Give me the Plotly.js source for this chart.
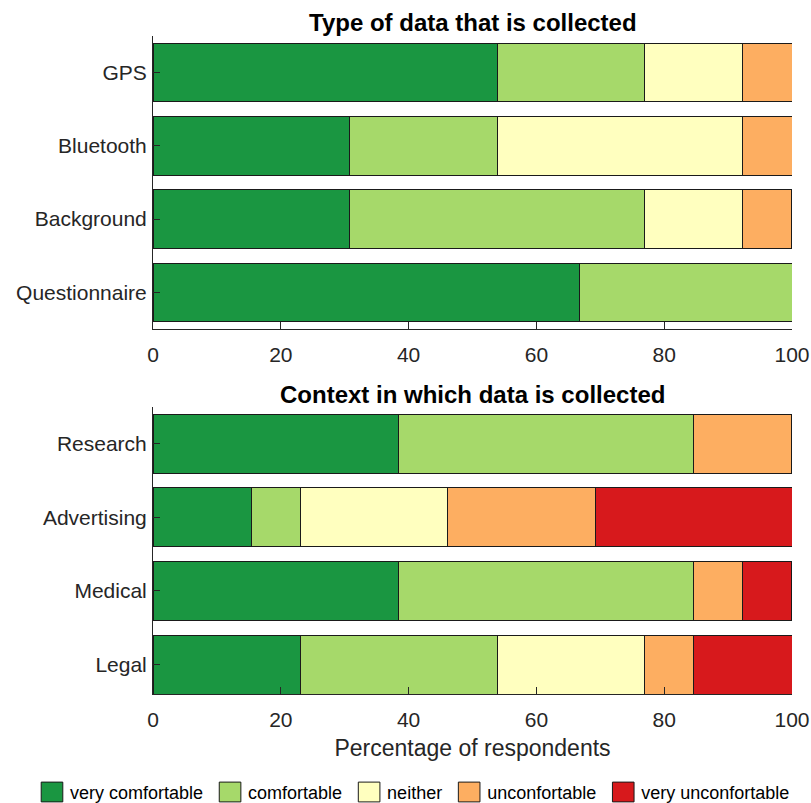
<!DOCTYPE html>
<html>
<head>
<meta charset="utf-8">
<script src="https://cdn.plot.ly/plotly-3.0.1.min.js"></script>
<style>
html,body{margin:0;padding:0;background:#fff;}
#chart{width:811px;height:803px;}
</style>
</head>
<body>
<div id="chart"></div>
<script>
// ---- data ----
const typeCategories = ["GPS", "Bluetooth", "Background", "Questionnaire"];
const contextCategories = ["Research", "Advertising", "Medical", "Legal"];
const seriesNames = ["very comfortable", "comfortable", "neither", "unconfortable", "very unconfortable"];

// Percentage of respondents - "Type of data that is collected"
const typeVeryComfortable   = [53.85, 30.77, 30.77, 66.67];
const typeComfortable       = [23.08, 23.08, 46.15, 33.33];
const typeNeither           = [15.38, 38.46, 15.38, 0];
const typeUnconfortable     = [7.69, 7.69, 7.69, 0];
const typeVeryUnconfortable = [0, 0, 0, 0];

// Percentage of respondents - "Context in which data is collected"
const ctxVeryComfortable   = [38.46, 15.38, 38.46, 23.08];
const ctxComfortable       = [46.15, 7.69, 46.15, 30.77];
const ctxNeither           = [0, 23.08, 0, 23.08];
const ctxUnconfortable     = [15.38, 23.08, 7.69, 7.69];
const ctxVeryUnconfortable = [0, 30.77, 7.69, 15.38];

const xTickValues = [0, 20, 40, 60, 80, 100];
const xTickLabels = ["0", "20", "40", "60", "80", "100"];

// ---- styling ----
const colors = ["#1a9641", "#a6d96a", "#ffffbf", "#fdae61", "#d7191c"];
const typeSeries = [typeVeryComfortable, typeComfortable, typeNeither, typeUnconfortable, typeVeryUnconfortable];
const ctxSeries = [ctxVeryComfortable, ctxComfortable, ctxNeither, ctxUnconfortable, ctxVeryUnconfortable];

const FONT = "'Liberation Sans', Arial, Helvetica, sans-serif";
const AX = "#262626";

const traces = [];
seriesNames.forEach((name, i) => {
  traces.push({
    type: "bar", orientation: "h", name: name,
    y: typeCategories, x: typeSeries[i], xaxis: "x", yaxis: "y",
    marker: {color: colors[i], line: {color: "#1a1a1a", width: 1}},
    width: 0.8, showlegend: false, hoverinfo: "x+y+name"
  });
});
seriesNames.forEach((name, i) => {
  traces.push({
    type: "bar", orientation: "h", name: name,
    y: contextCategories, x: ctxSeries[i], xaxis: "x2", yaxis: "y2",
    marker: {color: colors[i], line: {color: "#1a1a1a", width: 1}},
    width: 0.8, showlegend: true, hoverinfo: "x+y+name"
  });
});

const xBase = {
  range: [0, 100], tickvals: xTickValues, ticktext: xTickLabels,
  ticks: "inside", ticklen: 7, tickcolor: AX, tickwidth: 1,
  showline: true, linecolor: AX, linewidth: 1, mirror: false,
  showgrid: false, zeroline: false, ticklabelstandoff: 7,
  tickfont: {family: FONT, size: 21, color: AX}, fixedrange: true
};
const yBase = {
  type: "category",
  ticks: "inside", ticklen: 7, tickcolor: AX, tickwidth: 1,
  showline: true, linecolor: AX, linewidth: 1,
  showgrid: false, zeroline: false,
  tickfont: {family: FONT, size: 21, color: AX}, fixedrange: true,
  ticklabelstandoff: 1
};

const H = 803, mT = 36, mB = 109, mL = 153, plotW = 639, plotH = H - mT - mB;
const topDomainBottom = (694 - 329) / plotH;
const botDomainTop = (694 - 407) / plotH;
const LEGEND_CENTER_Y = 792;

const layout = {
  width: 811, height: 803,
  margin: {l: mL, r: 19, t: mT, b: mB, autoexpand: false},
  paper_bgcolor: "#fff", plot_bgcolor: "#fff",
  barmode: "stack", bargap: 0.2,
  font: {family: FONT, color: AX},
  xaxis: Object.assign({}, xBase, {anchor: "y", domain: [0, 1]}),
  yaxis: Object.assign({}, yBase, {anchor: "x", domain: [topDomainBottom, 1],
          categoryorder: "array", categoryarray: typeCategories, range: [3.5, -0.5]}),
  xaxis2: Object.assign({}, xBase, {anchor: "y2", domain: [0, 1],
          title: {text: "Percentage of respondents", font: {family: FONT, size: 23, color: AX}, standoff: 9}}),
  yaxis2: Object.assign({}, yBase, {anchor: "x2", domain: [0, botDomainTop],
          categoryorder: "array", categoryarray: contextCategories, range: [3.4, -0.5]}),
  annotations: [
    {text: "<b>Type of data that is collected</b>", xref: "paper", yref: "paper",
     x: 0.5, y: (694 - 22) / plotH, xanchor: "center", yanchor: "middle", showarrow: false,
     font: {family: FONT, size: 24, color: "#000"}},
    {text: "<b>Context in which data is collected</b>", xref: "paper", yref: "paper",
     x: 0.5, y: (694 - 394) / plotH, xanchor: "center", yanchor: "middle", showarrow: false,
     font: {family: FONT, size: 24, color: "#000"}}
  ],
  legend: {
    orientation: "h", xref: "paper", yref: "paper",
    x: (30 - mL) / plotW, xanchor: "left", y: (694 - LEGEND_CENTER_Y) / plotH, yanchor: "middle",
    font: {family: FONT, size: 18, color: "#000"},
    traceorder: "normal", itemclick: false, itemdoubleclick: false,
    bgcolor: "rgba(0,0,0,0)", borderwidth: 0, itemwidth: 30
  },
  showlegend: true
};

Plotly.newPlot("chart", traces, layout, {displayModeBar: false, staticPlot: true}).then(() => {
  const paths = document.querySelectorAll("#chart .legendpoints path");
  paths.forEach(p => {
    p.setAttribute("transform", "translate(22,0) scale(1.8,1.65)");
    p.style.vectorEffect = "non-scaling-stroke";
  });
  // nudge the legend so its swatches sit on the reference baseline row
  const leg = document.querySelector("#chart g.legend");
  if (leg && paths.length) {
    const r = paths[0].getBoundingClientRect();
    const cy = r.top + r.height / 2;
    const dy = LEGEND_CENTER_Y - cy;
    const m = /translate\(\s*([-\d.e]+)[ ,]+([-\d.e]+)\s*\)/.exec(leg.getAttribute("transform") || "");
    if (m) leg.setAttribute("transform", "translate(" + m[1] + "," + (parseFloat(m[2]) + dy) + ")");
  }
});
</script>
</body>
</html>
